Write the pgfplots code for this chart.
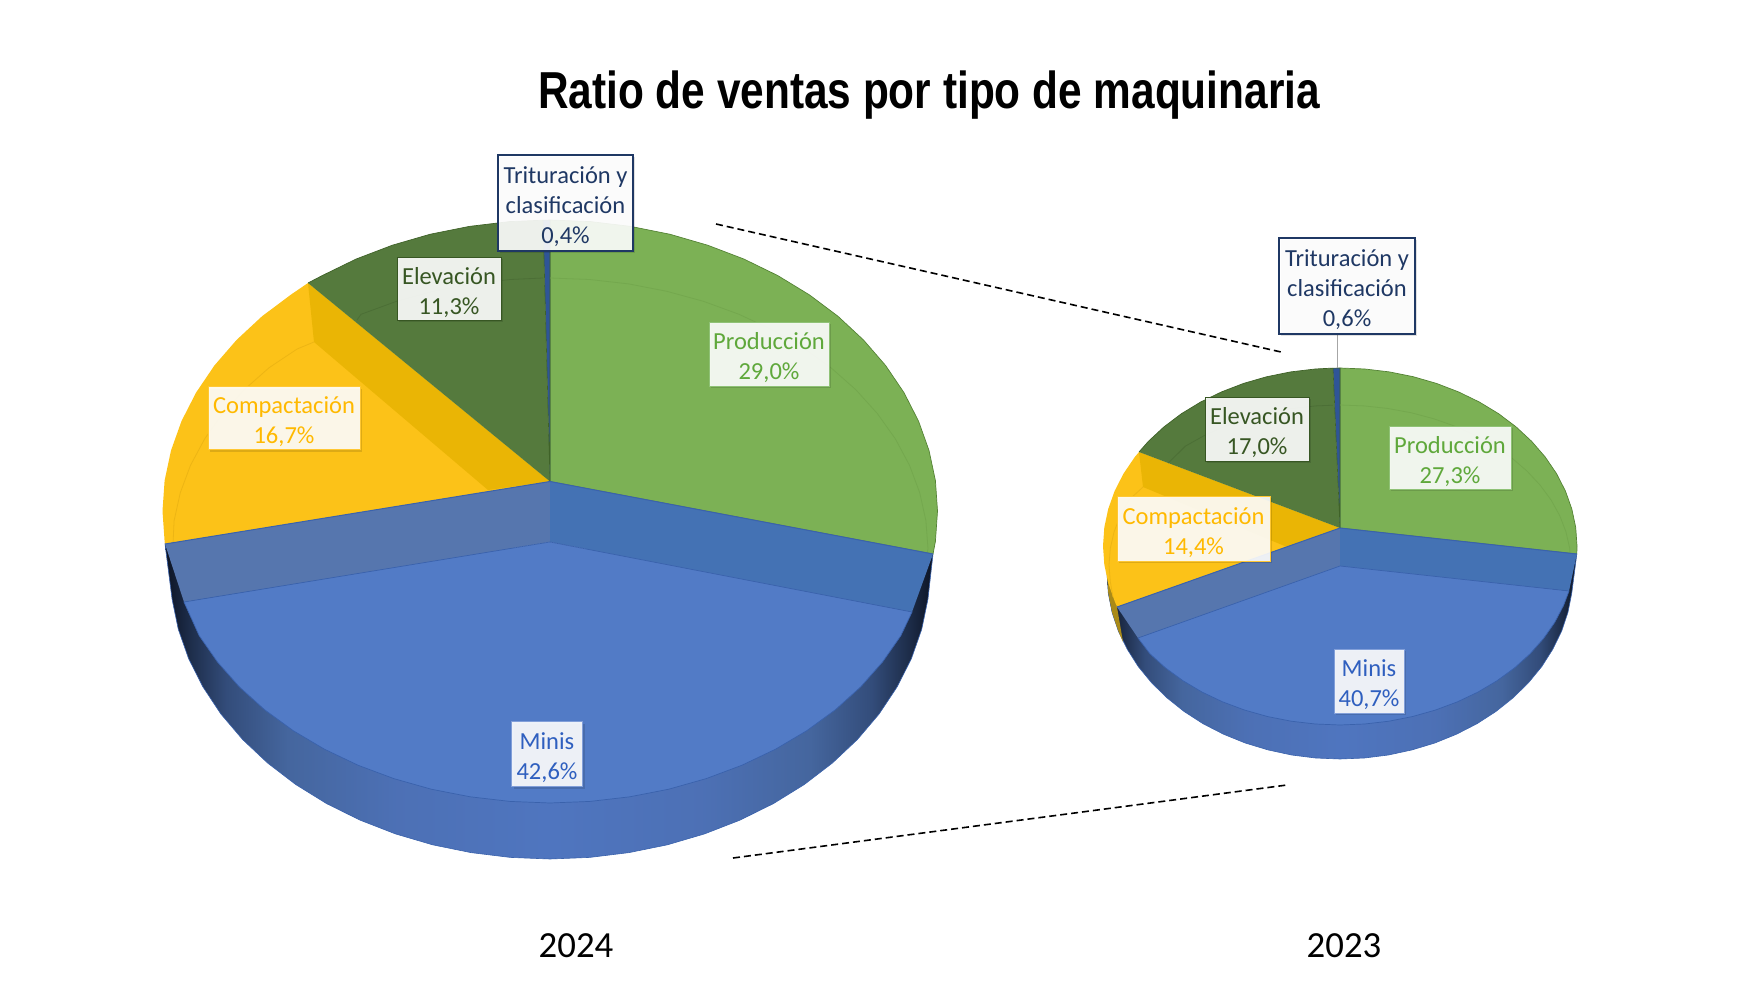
\documentclass[border=0pt]{standalone}
\usepackage{pgfplots}
\pgfplotsset{compat=1.18}
\usepackage{fontspec}
\setmainfont{Carlito}
\newfontfamily\titlefont{Liberation Sans}
\usetikzlibrary{shadows}
\definecolor{cGreen}{HTML}{7CB155}
\definecolor{cGreenL}{HTML}{548235}
\definecolor{cGreenF}{HTML}{74A84E}
\definecolor{cDark}{HTML}{557A3D}
\definecolor{cDarkL}{HTML}{3F6228}
\definecolor{cDarkF}{HTML}{4C6F36}
\definecolor{cYel}{HTML}{FCC218}
\definecolor{cYelW}{HTML}{EAB505}
\definecolor{cYelF}{HTML}{EDB514}
\definecolor{cYelS}{HTML}{A98A18}
\definecolor{cSliver}{HTML}{2F5597}
\definecolor{cFace}{HTML}{527BC6}
\definecolor{cFaceL}{HTML}{3A62AC}
\definecolor{cWallL}{HTML}{5676AE}
\definecolor{cWallR}{HTML}{4472B4}
\definecolor{tProd}{HTML}{5FA83B}
\definecolor{tElev}{HTML}{375623}
\definecolor{tComp}{HTML}{FFB900}
\definecolor{tMini}{HTML}{2F5FBF}
\definecolor{tTrit}{HTML}{1F3864}
\pgfdeclarehorizontalshading{wallshade}{100bp}{
 rgb(0bp)=(.05,.08,.14); rgb(25bp)=(.05,.08,.14); rgb(26.5bp)=(.11,.17,.28); rgb(29bp)=(.20,.30,.48);
 rgb(33bp)=(.27,.40,.62); rgb(40bp)=(.30,.44,.71); rgb(50bp)=(.31,.46,.75);
 rgb(60bp)=(.30,.44,.71); rgb(67bp)=(.27,.40,.62); rgb(71bp)=(.20,.30,.48);
 rgb(73.5bp)=(.11,.17,.28); rgb(75bp)=(.05,.08,.14); rgb(100bp)=(.05,.08,.14)}
\newcommand{\st}{\rule{0pt}{12.5pt}}
\tikzset{
 lbl/.style={fill=white, fill opacity=.9, text opacity=1, draw opacity=1, inner sep=0pt, align=center,
   font=\fontsize{12.25}{15}\selectfont,
   general shadow={shadow xshift=1.2pt, shadow yshift=-1.2pt, fill=black, fill opacity=.12, draw=none}},
}
\begin{document}
\begin{tikzpicture}[x=1pt,y=1pt]
\useasboundingbox (0,0) rectangle (875,500);
\begin{axis}[at={(0,0)},anchor=south west,width=875pt,height=500pt,scale only axis,
  xmin=0,xmax=1750,ymin=0,ymax=1000,y dir=reverse,hide axis,clip=false]
%% ---- 2024 ----
% side wall
\addplot[draw=cFaceL,line width=.3pt,shading=wallshade,forget plot,mark=none] coordinates {(165,544)(172.1,599.3)(178.3,629.3)(188.6,658.6)(202.9,686.9)(220.9,714)(242.6,739.5)(267.6,763)(295.7,784.5)(326.6,803.6)(360,820.1)(395.5,833.9)(432.6,844.8)(471,852.6)(510.3,857.4)(550,859)(589.7,857.4)(629,852.6)(667.4,844.8)(704.5,833.9)(740,820.1)(773.4,803.6)(804.3,784.5)(832.4,763)(857.4,739.5)(879.1,714)(897.1,686.9)(911.4,658.6)(921.7,629.3)(927.9,599.3)(933,554)} --cycle;
% Produccion
\addplot[fill=cGreen,draw=cGreenL,line width=.35pt,forget plot,mark=none] coordinates {(550,481.5)(550,220)(590.5,221.6)(630.6,226.4)(669.7,234.2)(707.6,245.2)(743.8,259)(777.8,275.6)(809.3,294.8)(838,316.3)(863.5,340)(885.6,365.5)(904,392.7)(918.5,421.1)(929,450.5)(935.4,480.6)(937.5,511)(935.4,541.4)(933,554)} --cycle;
% Compactacion
\addplot[fill=cYel,draw=none,forget plot,mark=none] coordinates {(550,481.5)(308,283)(290.7,294.8)(262,316.3)(236.5,340)(214.4,365.5)(196,392.7)(181.5,421.1)(171,450.5)(164.6,480.6)(162.5,511)(164.6,541.4)(165,544)} --cycle;
\addplot[fill=cYelW,draw=none,forget plot,mark=none] coordinates {(308,283)(550,481.5)(488,490)(314,342)} --cycle;
% Elevacion
\addplot[fill=cDark,draw=none,forget plot,mark=none] coordinates {(550,481.5)(308,283)(322.2,275.6)(356.2,259)(392.4,245.2)(430.3,234.2)(469.4,226.4)(509.5,221.6)(543,220.2)} --cycle;
\addplot[draw=cDarkL,line width=.35pt,forget plot,mark=none] coordinates {(308,283)(322.2,275.6)(356.2,259)(392.4,245.2)(430.3,234.2)(469.4,226.4)(509.5,221.6)(543,220.2)};
% Trituracion
\addplot[fill=cSliver,draw=cDarkL,line width=.3pt,forget plot,mark=none] coordinates {(543,220.2)(550,220)(550,481.5)} --cycle;
% faint inner arcs
\addplot[draw=cGreenF,line width=.4pt,forget plot,mark=none] coordinates {(550,278)(589.5,279.5)(628.6,283.9)(666.8,291.3)(703.7,301.4)(739,314.3)(772.2,329.8)(802.9,347.6)(830.9,367.7)(855.8,389.7)(877.3,413.5)(895.3,438.8)(909.5,465.3)(919.7,492.7)(925.9,520.7)(928,549)(927,553)};
\addplot[draw=cDarkF,line width=.4pt,forget plot,mark=none] coordinates {(357,320)(361,314.3)(396.3,301.4)(433.2,291.3)(471.4,283.9)(510.5,279.5)(543,278)};
\addplot[draw=cYelF,line width=.4pt,forget plot,mark=none] coordinates {(314,342)(297.1,349)(269.1,367.7)(244.2,389.7)(222.7,413.5)(204.7,438.8)(190.5,465.3)(180.3,492.7)(174.1,520.7)(173,544)};
% Minis inner walls
\addplot[fill=cWallL,draw=none,forget plot,mark=none] coordinates {(550,481.5)(165,544)(184,602)(550,542)} --cycle;
\addplot[fill=cWallR,draw=none,forget plot,mark=none] coordinates {(550,481.5)(933,554)(912,612)(550,542)} --cycle;
\addplot[draw=cFaceL,line width=.5pt,forget plot,mark=none] coordinates {(165,544)(550,481.5)(933,554)};
% Minis face
\addplot[fill=cFace,draw=cFaceL,line width=.35pt,forget plot,mark=none] coordinates {(550,542)(912,612)(900.8,635.7)(882.5,662)(860.7,686.8)(835.4,709.7)(806.9,730.6)(775.7,749.1)(742,765.2)(706.2,778.6)(668.7,789.2)(629.8,796.8)(590.1,801.4)(550,803)(509.9,801.4)(470.2,796.8)(431.3,789.2)(393.8,778.6)(358,765.2)(324.3,749.1)(293.1,730.6)(264.6,709.7)(239.3,686.8)(217.5,662)(199.2,635.7)(184,602)} --cycle;
%% ---- 2023 ----
\addplot[draw=cFaceL,line width=.3pt,shading=wallshade,forget plot,mark=none] coordinates {(1107,574)(1108.3,593.3)(1112.1,612.5)(1118.4,631.2)(1127.2,649.2)(1138.2,666.5)(1151.5,682.7)(1166.9,697.8)(1184.1,711.5)(1203,723.7)(1223.5,734.2)(1245.2,743)(1268,749.9)(1291.6,755)(1315.7,758)(1340,759)(1364.3,758)(1388.4,755)(1412,749.9)(1434.8,743)(1456.5,734.2)(1477,723.7)(1495.9,711.5)(1513.1,697.8)(1528.5,682.7)(1541.8,666.5)(1552.8,649.2)(1561.6,631.2)(1567.9,612.5)(1571.7,593.3)(1576.8,554)} --cycle;
\addplot[fill=cYelS,draw=none,forget plot,mark=none] coordinates {(1107,574)(1108.3,593.3)(1112.1,612.5)(1118.4,631.2)(1123,642)(1117,607)} --cycle;
\addplot[fill=cGreen,draw=cGreenL,line width=.35pt,forget plot,mark=none] coordinates {(1340,528)(1340,368)(1364.8,369)(1389.3,371.9)(1413.2,376.7)(1436.4,383.4)(1458.5,391.9)(1479.3,402)(1498.6,413.7)(1516.1,426.9)(1531.7,441.4)(1545.2,457)(1556.5,473.6)(1565.4,491)(1571.8,509)(1575.7,527.4)(1577,546)(1576.8,554)} --cycle;
\addplot[fill=cYel,draw=none,forget plot,mark=none] coordinates {(1340,528)(1139,452)(1134.8,457)(1123.5,473.6)(1114.6,491)(1108.2,509)(1104.3,527.4)(1103,546)(1104.3,564.6)(1108.2,583)(1114.6,601)(1117,607)} --cycle;
\addplot[fill=cYelW,draw=none,forget plot,mark=none] coordinates {(1139,452)(1340,528)(1287,547)(1143,487)} --cycle;
\addplot[fill=cDark,draw=none,forget plot,mark=none] coordinates {(1340,528)(1139,452)(1148.3,441.4)(1163.9,426.9)(1181.4,413.7)(1200.7,402)(1221.5,391.9)(1243.6,383.4)(1266.8,376.7)(1290.7,371.9)(1315.2,369)(1333,368.1)} --cycle;
\addplot[draw=cDarkL,line width=.35pt,forget plot,mark=none] coordinates {(1139,452)(1148.3,441.4)(1163.9,426.9)(1181.4,413.7)(1200.7,402)(1221.5,391.9)(1243.6,383.4)(1266.8,376.7)(1290.7,371.9)(1315.2,369)(1333,368.1)};
\addplot[fill=cSliver,draw=cDarkL,line width=.3pt,forget plot,mark=none] coordinates {(1333,368.1)(1340,368)(1340,528)} --cycle;
\addplot[draw=cGreenF,line width=.4pt,forget plot,mark=none] coordinates {(1340,405)(1364.1,405.9)(1388,408.5)(1411.4,412.8)(1433.9,418.8)(1455.5,426.4)(1475.8,435.6)(1494.6,446.1)(1511.7,457.9)(1526.9,471)(1540,485)(1551,499.9)(1559.7,515.6)(1565.9,531.7)(1569.7,548.3)(1570,554)};
\addplot[draw=cDarkF,line width=.4pt,forget plot,mark=none] coordinates {(1168.3,463)(1185.4,446.1)(1204.2,435.6)(1224.5,426.4)(1246.1,418.8)(1268.6,412.8)(1292,408.5)(1315.9,405.9)(1333,405.2)};
\addplot[draw=cYelF,line width=.4pt,forget plot,mark=none] coordinates {(1143,487)(1129,499.9)(1120.3,515.6)(1114.1,531.7)(1110.3,548.3)(1109,565)(1110.3,581.7)(1113,597)};
\addplot[fill=cWallL,draw=none,forget plot,mark=none] coordinates {(1340,528)(1117,607)(1138,638)(1340,566)} --cycle;
\addplot[fill=cWallR,draw=none,forget plot,mark=none] coordinates {(1340,528)(1576.8,554)(1569,591)(1340,566)} --cycle;
\addplot[draw=cFaceL,line width=.5pt,forget plot,mark=none] coordinates {(1117,607)(1340,528)(1576.8,554)};
\addplot[fill=cFace,draw=cFaceL,line width=.35pt,forget plot,mark=none] coordinates {(1340,566)(1569,591)(1563.5,605.5)(1554.7,622.4)(1543.5,638.5)(1530.1,653.7)(1514.6,667.8)(1497.2,680.6)(1478.1,692)(1457.5,701.8)(1435.6,710)(1412.6,716.5)(1388.9,721.2)(1364.6,724)(1340,725)(1315.4,724)(1291.1,721.2)(1267.4,716.5)(1244.4,710)(1222.5,701.8)(1201.9,692)(1182.8,680.6)(1165.4,667.8)(1149.9,653.7)(1138,638)} --cycle;
% leader, connectors
\addplot[draw=black!35,line width=.5pt,forget plot,mark=none] coordinates {(1337,334)(1337,368)};
\addplot[draw=black,line width=.8pt,dash pattern=on 3.5pt off 2pt,forget plot,mark=none] coordinates {(716,224)(1281,352)};
\addplot[draw=black,line width=.8pt,dash pattern=on 3.5pt off 2pt,forget plot,mark=none] coordinates {(733,858)(1287,785)};
% labels 2024
\node[lbl,draw=tTrit,line width=.8pt,text=tTrit,minimum width=67.5pt,minimum height=48pt] at (axis cs:565.5,203) {\st Trituración y\\clasificación\\0,4\%};
\node[lbl,draw=tElev,line width=.3pt,text=tElev,minimum width=52pt,minimum height=31.5pt] at (axis cs:449,288.5) {\st Elevación\\11,3\%};
\node[lbl,draw=tProd!70,line width=.3pt,text=tProd,minimum width=60pt,minimum height=32pt] at (axis cs:769,354) {\st Producción\\29,0\%};
\node[lbl,draw=tComp!80,line width=.3pt,text=tComp,minimum width=76pt,minimum height=31.5pt] at (axis cs:284,418) {\st Compactación\\16,7\%};
\node[lbl,draw=tMini!60,line width=.3pt,text=tMini,minimum width=35.5pt,minimum height=32.5pt] at (axis cs:547,754) {\st Minis\\42,6\%};
% labels 2023
\node[lbl,draw=tTrit,line width=.8pt,text=tTrit,minimum width=68pt,minimum height=48pt] at (axis cs:1347,286) {\st Trituración y\\clasificación\\0,6\%};
\node[lbl,draw=tElev,line width=.3pt,text=tElev,minimum width=52pt,minimum height=32pt] at (axis cs:1257,429) {\st Elevación\\17,0\%};
\node[lbl,draw=tProd!70,line width=.3pt,text=tProd,minimum width=61pt,minimum height=31.5pt] at (axis cs:1450,457.5) {\st Producción\\27,3\%};
\node[lbl,draw=tComp!80,line width=.3pt,text=tComp,minimum width=76.5pt,minimum height=32.5pt] at (axis cs:1193.5,528.5) {\st Compactación\\14,4\%};
\node[lbl,draw=tMini!60,line width=.3pt,text=tMini,minimum width=35pt,minimum height=32pt] at (axis cs:1369,681) {\st Minis\\40,7\%};
% years and title
\node[font=\fontsize{18.4}{22}\selectfont,text=black] at (axis cs:576,946) {2024};
\node[font=\fontsize{18.4}{22}\selectfont,text=black] at (axis cs:1344,946) {2023};
\node[font=\titlefont\bfseries\fontsize{26}{30}\selectfont,text=black,xscale=.815] at (axis cs:929,95) {Ratio de ventas por tipo de maquinaria};
\end{axis}
\end{tikzpicture}
\end{document}
